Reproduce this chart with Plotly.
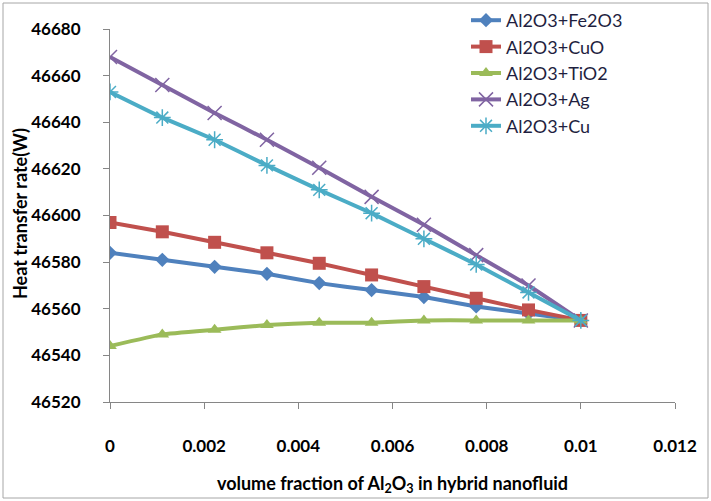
import plotly.graph_objects as go

x_vals = [0, 0.001111, 0.002222, 0.003333, 0.004444, 0.005556, 0.006667, 0.007778, 0.008889, 0.01]
fe2o3 = [46584, 46581, 46578, 46575, 46571, 46568, 46565, 46561, 46558, 46555]
cuo = [46597, 46593, 46588.5, 46584, 46579.5, 46574.5, 46569.5, 46564.5, 46559.5, 46555]
tio2 = [46544, 46549, 46551, 46553, 46554, 46554, 46555, 46555, 46555, 46555]
ag = [46668, 46656, 46644, 46632.5, 46620.5, 46608, 46596, 46583, 46570, 46555]
cu = [46653, 46642, 46632.5, 46621.5, 46611, 46601, 46590, 46579, 46567, 46555]

names = ["Al2O3+Fe2O3", "Al2O3+CuO", "Al2O3+TiO2", "Al2O3+Ag", "Al2O3+Cu"]
series = [fe2o3, cuo, tio2, ag, cu]
colors = ["#4F81BD", "#C0504D", "#9BBB59", "#8064A2", "#4BACC6"]
symbols = ["diamond", "square", "triangle-up", "x-thin-open", "asterisk-open"]
msizes = [11, 13, 12, 14, 14]

x_ticks = [0, 0.002, 0.004, 0.006, 0.008, 0.01, 0.012]
x_tick_labels = ["0", "0.002", "0.004", "0.006", "0.008", "0.01", "0.012"]
y_ticks = [46520, 46540, 46560, 46580, 46600, 46620, 46640, 46660, 46680]
y_tick_labels = [str(v) for v in y_ticks]

W, H = 711, 501
ml, mr, mt, mb = 110, 36, 29, 99
pw, ph = W - ml - mr, H - mt - mb

fig = go.Figure()
for name, ys, c, s, ms in zip(names, series, colors, symbols, msizes):
    mk = dict(symbol=s, size=ms, color=c)
    if "open" in s:
        mk["line"] = dict(width=1.5, color=c)
    fig.add_trace(go.Scatter(x=x_vals, y=ys, name=name, mode="lines+markers",
                             line=dict(color=c, width=4, shape="spline", smoothing=0.3),
                             marker=mk))

font_family = "Lato, Open Sans, sans-serif"
axis_col = "#868686"

def px2x(p):
    return (p - ml) / pw

def px2y(p):
    return (H - mb - p) / ph

fig.add_shape(type="rect", xref="paper", yref="paper",
              x0=px2x(3), x1=px2x(708), y0=px2y(498), y1=px2y(3),
              line=dict(color="#A6A6A6", width=1), fillcolor="rgba(0,0,0,0)", layer="below")

fig.add_annotation(text="<b>Heat transfer rate(W)</b>", xref="paper", yref="paper",
                   x=px2x(20), y=px2y(214), xanchor="center", yanchor="middle",
                   textangle=-90, showarrow=False,
                   font=dict(size=18, family=font_family, color="#000000"))

fig.update_layout(
    width=W, height=H,
    margin=dict(l=ml, r=mr, t=mt, b=mb, pad=0, autoexpand=False),
    paper_bgcolor="white", plot_bgcolor="white",
    font=dict(family=font_family, color="#000000"),
    showlegend=True,
    legend=dict(x=px2x(466), y=px2y(2), xanchor="left", yanchor="top",
                font=dict(size=18, color="#1F1F3F", family=font_family),
                bgcolor="rgba(255,255,255,0)", tracegroupgap=0, itemwidth=30),
    xaxis=dict(range=[0, 0.012], tickvals=x_ticks, ticktext=x_tick_labels,
               showgrid=False, zeroline=False, showline=True, linecolor=axis_col, linewidth=1.2,
               ticks="outside", ticklen=6, tickcolor=axis_col, ticklabelstandoff=22,
               tickfont=dict(size=17, family=font_family, weight="bold"),
               title=dict(text="volume fraction of Al<sub>2</sub>O<sub>3</sub> in hybrid nanofluid",
                          font=dict(size=18, family=font_family, weight="bold"), standoff=22)),
    yaxis=dict(range=[46520, 46680], tickvals=y_ticks, ticktext=y_tick_labels,
               showgrid=False, zeroline=False, showline=True, linecolor=axis_col, linewidth=1.2,
               ticks="outside", ticklen=6, tickcolor=axis_col, ticklabelstandoff=19,
               tickfont=dict(size=17, family=font_family, weight="bold")),
)

fig.write_html("out.html")
